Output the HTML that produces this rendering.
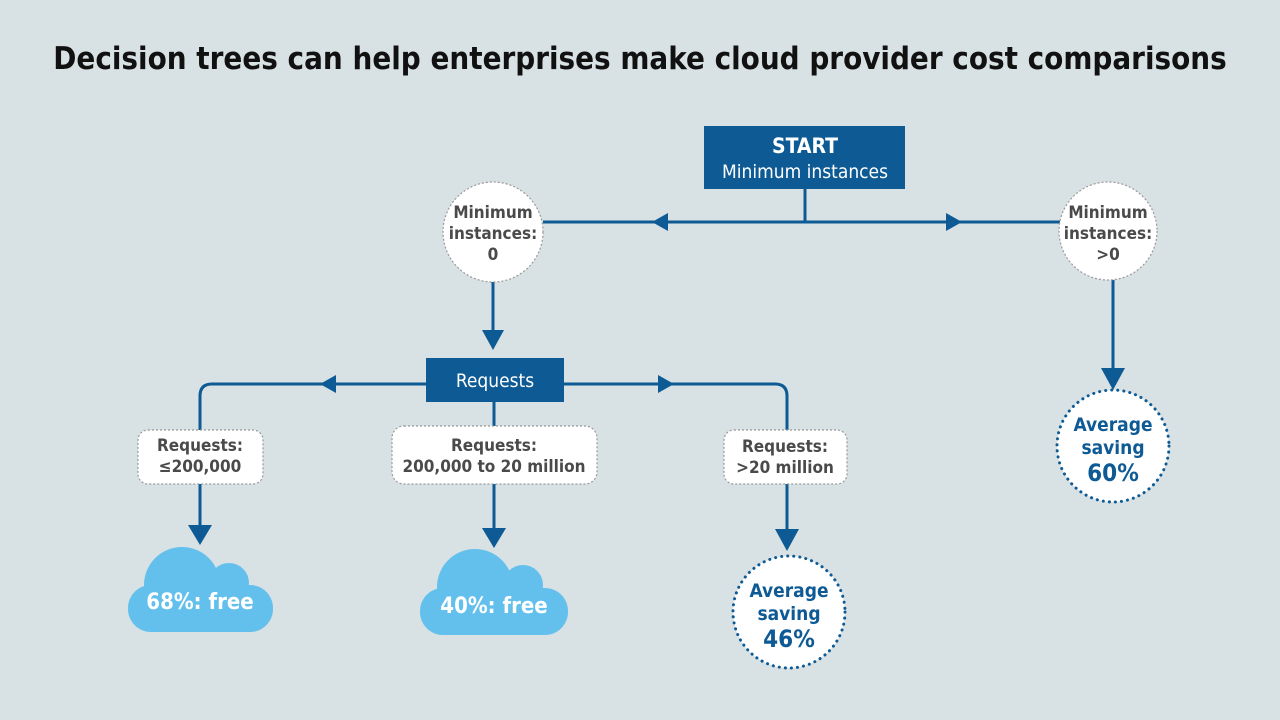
<!DOCTYPE html>
<html><head><meta charset="utf-8"><style>
html,body{margin:0;padding:0;background:#d8e1e3;}
svg{display:block;font-family:"DejaVu Sans Condensed","Liberation Sans",sans-serif;}
</style></head><body>
<svg width="1280" height="720" viewBox="0 0 1280 720" xmlns="http://www.w3.org/2000/svg">
<rect width="1280" height="720" fill="#d8e1e3"/>
<text x="640" y="69" text-anchor="middle" font-size="31" font-weight="bold" fill="#111">Decision trees can help enterprises make cloud provider cost comparisons</text>
<g stroke="#0d5a94" stroke-width="3" fill="none">
<line x1="805" y1="189" x2="805" y2="222"/>
<line x1="543" y1="222" x2="1060" y2="222"/>
<line x1="493" y1="282" x2="493" y2="335"/>
<line x1="1113" y1="280" x2="1113" y2="372"/>
<path d="M200 430 V396 Q200 384 212 384 H775 Q787 384 787 396 V430"/>
<line x1="494" y1="402" x2="494" y2="426"/>
<line x1="200" y1="484" x2="200" y2="530"/>
<line x1="494" y1="484" x2="494" y2="532"/>
<line x1="787" y1="484" x2="787" y2="533"/>
</g>
<g fill="#0d5a94">
<polygon points="652,222 668,213 668,231"/>
<polygon points="962,222 946,213 946,231"/>
<polygon points="482,330 504,330 493,350"/>
<polygon points="1101,368 1125,368 1113,390"/>
<polygon points="320,384 336,375 336,393"/>
<polygon points="674,384 658,375 658,393"/>
<polygon points="188,525 212,525 200,545"/>
<polygon points="482,528 506,528 494,548"/>
<polygon points="775,529 799,529 787,551"/>
<rect x="704" y="126" width="201" height="63"/>
<rect x="426" y="358" width="138" height="44"/>
</g>
<text x="805" y="153" text-anchor="middle" font-size="21" font-weight="bold" fill="#fff">START</text>
<text x="805" y="178" text-anchor="middle" font-size="19" fill="#fff">Minimum instances</text>
<text x="495" y="387" text-anchor="middle" font-size="19" fill="#fff">Requests</text>
<g fill="#fff" stroke="#999" stroke-width="1.2" stroke-dasharray="2,2">
<circle cx="493" cy="232" r="50"/>
<circle cx="1108" cy="231" r="49"/>
<rect x="138" y="430" width="125" height="54" rx="10"/>
<rect x="392" y="426" width="205" height="58" rx="12"/>
<rect x="724" y="430" width="123" height="54" rx="10"/>
</g>
<g fill="#fff" stroke="#0d5a94" stroke-width="3" stroke-dasharray="0.1,6" stroke-linecap="round">
<circle cx="789" cy="612" r="56"/>
<circle cx="1113" cy="446" r="56"/>
</g>
<g font-size="17" font-weight="bold" fill="#4a4a4a" text-anchor="middle">
<text x="493" y="218">Minimum</text><text x="493" y="239">instances:</text><text x="493" y="260">0</text>
<text x="1108" y="218">Minimum</text><text x="1108" y="239">instances:</text><text x="1108" y="260">&gt;0</text>
<text x="200" y="451">Requests:</text><text x="200" y="472">≤200,000</text>
<text x="494" y="451">Requests:</text><text x="494" y="472">200,000 to 20 million</text>
<text x="785" y="452">Requests:</text><text x="785" y="473">&gt;20 million</text>
</g>
<g font-weight="bold" fill="#0d5a94" text-anchor="middle">
<text x="789" y="597" font-size="19">Average</text><text x="789" y="620" font-size="19">saving</text><text x="789" y="647" font-size="24">46%</text>
<text x="1113" y="431" font-size="19">Average</text><text x="1113" y="454" font-size="19">saving</text><text x="1113" y="481" font-size="24">60%</text>
</g>
<g fill="#63c0ec">
<circle cx="182" cy="585" r="38"/><circle cx="229" cy="583" r="20"/>
<rect x="128" y="585" width="145" height="47" rx="23"/>
<circle cx="475" cy="587" r="38"/><circle cx="523" cy="585" r="20"/>
<rect x="420" y="588" width="148" height="47" rx="23"/>
</g>
<text x="200" y="609" text-anchor="middle" font-size="22" font-weight="bold" fill="#fff">68%: free</text>
<text x="494" y="613" text-anchor="middle" font-size="22" font-weight="bold" fill="#fff">40%: free</text>
</svg>
</body></html>
